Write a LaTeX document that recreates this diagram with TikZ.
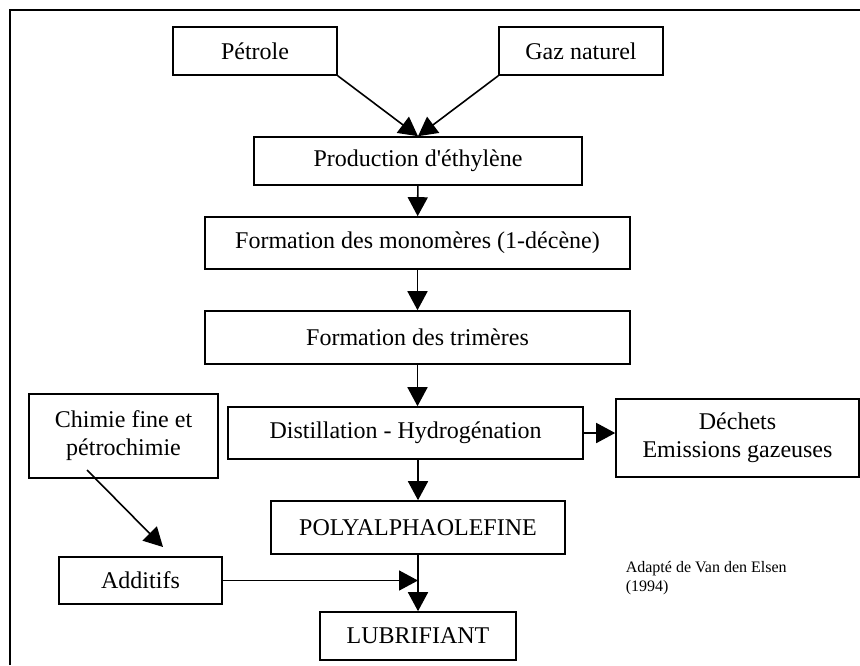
\documentclass[tikz,border=0pt]{standalone}
\usepackage{fontspec}
\setmainfont{Liberation Serif}
\usetikzlibrary{arrows.meta}

\begin{document}
\begin{tikzpicture}[x = 0.5pt, y = -0.5pt, line width = 0.8pt,
  box/.style = {draw, inner sep = 0pt, align = center, font = \fontsize{12}{14}\selectfont},
  arr/.style = {-{Triangle[length = 9.5pt, width = 10pt]}}]
  \useasboundingbox (0,0) rectangle (860,665);
  \draw (10,665) -- (10,10) -- (860,10);
  \node[box, minimum width = 82pt, minimum height = 24pt] (pet) at (255,51) {Pétrole};
  \node[box, minimum width = 82pt, minimum height = 24pt] (gaz) at (581,51) {Gaz naturel};
  \node[box, minimum width = 164pt, minimum height = 24pt] (prod) at (418,161) {Production d\textquotesingle éthylène};
  \node[box, minimum width = 212.5pt, minimum height = 26pt] (mono) at (417.5,243) {Formation des monomères (1-décène)};
  \node[box, minimum width = 212.5pt, minimum height = 26.5pt] (tri) at (417.5,337.5) {Formation des trimères};
  \node[box, minimum width = 177.5pt, minimum height = 26pt] (dist) at (405.5,433) {Distillation - Hydrogénation};
  \node[box, minimum width = 121.5pt, minimum height = 39pt] (dech) at (737.5,438) {Déchets\\Emissions gazeuses};
  \node[box, minimum width = 94.5pt, minimum height = 42pt] (chim) at (123.5,436) {Chimie fine et\\pétrochimie};
  \node[box, minimum width = 147pt, minimum height = 26.5pt] (pao) at (418,527.5) {POLYALPHAOLEFINE};
  \node[box, minimum width = 81.5pt, minimum height = 23.5pt] (add) at (140.5,580.5) {Additifs};
  \node[box, minimum width = 98pt, minimum height = 24pt] (lub) at (418,636) {LUBRIFIANT};
  \node[anchor = base west, inner sep = 0pt, align = left, font = \fontsize{8}{9.5}\selectfont] (src) at (625,591) {Adapté de Van den Elsen\\(1994)};
  \coordinate (c1) at (87,470);
  \coordinate (c2) at (163,547);
  \draw[arr] (pet.south east) -- (prod.north);
  \draw[arr] (gaz.south west) -- (prod.north);
  \draw[arr] (prod) -- (mono);
  \draw[arr] (mono) -- (tri);
  \draw[arr] (tri) -- (dist.north -| tri.south);
  \draw[arr] (dist.south -| pao.north) -- (pao);
  \draw[arr] (dist.east) -- (dist.east -| dech.west);
  \draw[arr] (c1) -- (c2);
  \draw[arr] (add.east) -- (add.east -| lub.north);
  \draw[arr] (pao) -- (lub);
\end{tikzpicture}
\end{document}
